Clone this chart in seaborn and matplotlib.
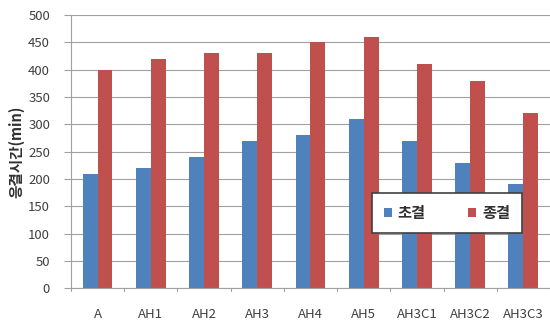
import matplotlib
matplotlib.use("Agg")
import matplotlib.pyplot as plt
import seaborn as sns
import pandas as pd

categories = ["A", "AH1", "AH2", "AH3", "AH4", "AH5", "AH3C1", "AH3C2", "AH3C3"]
initial_set = [210, 220, 240, 270, 280, 310, 270, 230, 190]
final_set = [400, 420, 430, 430, 450, 460, 410, 380, 320]
series_names = ["초결", "종결"]
y_ticks = [0, 50, 100, 150, 200, 250, 300, 350, 400, 450, 500]

df = pd.DataFrame({
    "cat": categories * 2,
    "value": initial_set + final_set,
    "series": [series_names[0]] * len(categories) + [series_names[1]] * len(categories),
})

sns.set_theme(style="white")
plt.rcParams["font.family"] = ["Noto Sans CJK KR", "DejaVu Sans"]

fig = plt.figure(figsize=(5.5, 3.22), dpi=100)
ax = fig.add_axes([0.129, 0.105, 0.871, 0.848])

sns.barplot(data=df, x="cat", y="value", hue="series", order=categories,
            hue_order=series_names, palette=["#4F81BD", "#C0504D"],
            width=0.56, saturation=1, ax=ax, linewidth=0)

ax.set_ylim(0, 500)
ax.set_xlim(-0.5, len(categories) - 0.5)
ax.set_yticks(y_ticks)
ax.set_yticklabels([str(t) for t in y_ticks], fontsize=9.5, color="#404040")
ax.yaxis.grid(True, color="#A0A0A0", linewidth=0.8)
ax.set_axisbelow(True)
ax.set_xlabel("")
ax.set_ylabel("응결시간(min)", fontsize=10.5, fontweight="bold", color="#303030", labelpad=3)
ax.tick_params(axis="x", labelsize=9.5, colors="#404040", pad=14, length=0)
ax.tick_params(axis="y", left=True, length=5, width=0.8, color="#A0A0A0", pad=10)

for side in ["top", "right"]:
    ax.spines[side].set_visible(False)
for side in ["left", "bottom"]:
    ax.spines[side].set_color("#A0A0A0")
    ax.spines[side].set_linewidth(0.8)

# small tick marks between categories
for i in range(len(categories) + 1):
    ax.plot([i - 0.5, i - 0.5], [0, -5], color="#A0A0A0", linewidth=0.8, clip_on=False)

leg = ax.legend(loc="center", bbox_to_anchor=(0.785, 0.275), ncol=2,
                prop={"size": 11, "weight": "bold"},
                frameon=True, fancybox=False, framealpha=1.0,
                handlelength=0.5, handleheight=0.5,
                columnspacing=2.8, handletextpad=0.4, borderpad=0.8, shadow=False)
leg.get_frame().set_edgecolor("#404040")
leg.get_frame().set_linewidth(1.2)
for t in leg.get_texts():
    t.set_color("#303030")

fig.savefig("out.png", dpi=100)
